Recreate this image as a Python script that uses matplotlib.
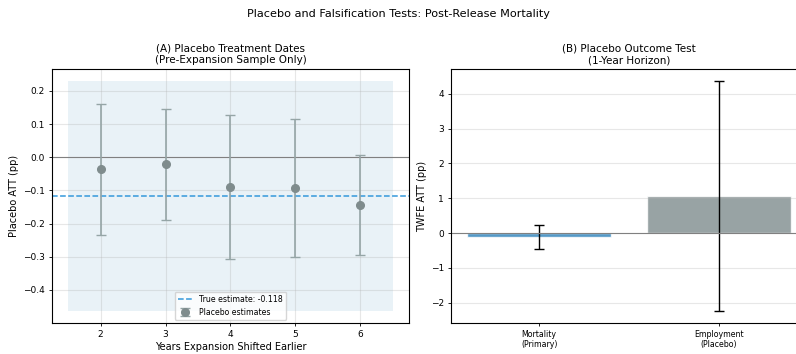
import matplotlib
matplotlib.use("Agg")
import matplotlib.pyplot as plt
import numpy as np

# Panel A: placebo treatment dates
shift_years = [2, 3, 4, 5, 6]
placebo_att = [-0.037, -0.022, -0.090, -0.094, -0.144]
placebo_ci_half = [0.198, 0.166, 0.218, 0.208, 0.152]
true_estimate = -0.118
band_low, band_high = -0.465, 0.231

# Panel B: placebo outcome test
outcomes = ["Mortality\n(Primary)", "Employment\n(Placebo)"]
twfe_att = [-0.118, 1.065]
twfe_ci_half = [0.35, 3.32]

fig = plt.figure(figsize=(7.96, 3.54), dpi=100)
ax1 = fig.add_axes([0.0653, 0.0876, 0.4485, 0.7175])
ax2 = fig.add_axes([0.5666, 0.0876, 0.4472, 0.7175])

title_fs = 7.5
label_fs = 7.0
tick_kw = dict(labelsize=6.5, length=2.5, width=0.6, pad=2.5)

for ax in (ax1, ax2):
    for sp in ax.spines.values():
        sp.set_linewidth(0.8)

# --- Panel A ---
ax1.fill_between([1.5, 6.5], band_low, band_high, color="#2980b9", alpha=0.1, lw=0)
ax1.axhline(0, color="gray", lw=0.8)
ax1.axhline(true_estimate, color="#3498db", ls="--", lw=1.1,
            label=f"True estimate: {true_estimate:.3f}")
ax1.errorbar(shift_years, placebo_att, yerr=placebo_ci_half, fmt="o",
             color="#7f8c8d", ecolor="#95a5a6", elinewidth=1.2, capsize=3.5,
             capthick=1.0, markersize=5.5, label="Placebo estimates")
ax1.set_xticks(shift_years)
ax1.set_xlabel("Years Expansion Shifted Earlier", fontsize=label_fs, labelpad=2)
ax1.set_ylabel("Placebo ATT (pp)", fontsize=label_fs, labelpad=3)
ax1.set_title("(A) Placebo Treatment Dates\n(Pre-Expansion Sample Only)",
              fontsize=title_fs, pad=4)
ax1.grid(True, alpha=0.3)
ax1.tick_params(**tick_kw)
ax1.legend(loc="lower center", fontsize=5.6, borderaxespad=0.4)

# --- Panel B ---
x = np.arange(len(outcomes))
ax2.bar(x, twfe_att, width=0.8, color=["#2980b9", "#7f8c8d"], alpha=0.8,
        edgecolor="white", yerr=twfe_ci_half, capsize=3.5,
        error_kw=dict(ecolor="black", elinewidth=1.0, capthick=1.0))
ax2.axhline(0, color="gray", lw=0.8)
ax2.set_xticks(x)
ax2.set_xticklabels(outcomes, fontsize=5.7)
ax2.set_ylabel("TWFE ATT (pp)", fontsize=label_fs, labelpad=3)
ax2.set_title("(B) Placebo Outcome Test\n(1-Year Horizon)", fontsize=title_fs, pad=4)
ax2.grid(True, axis="y", alpha=0.3)
ax2.tick_params(**tick_kw)
ax2.tick_params(axis="x", labelsize=5.7)

fig.suptitle("Placebo and Falsification Tests: Post-Release Mortality",
             fontsize=8.1, y=0.975)
fig.savefig("out.png", dpi=100)
